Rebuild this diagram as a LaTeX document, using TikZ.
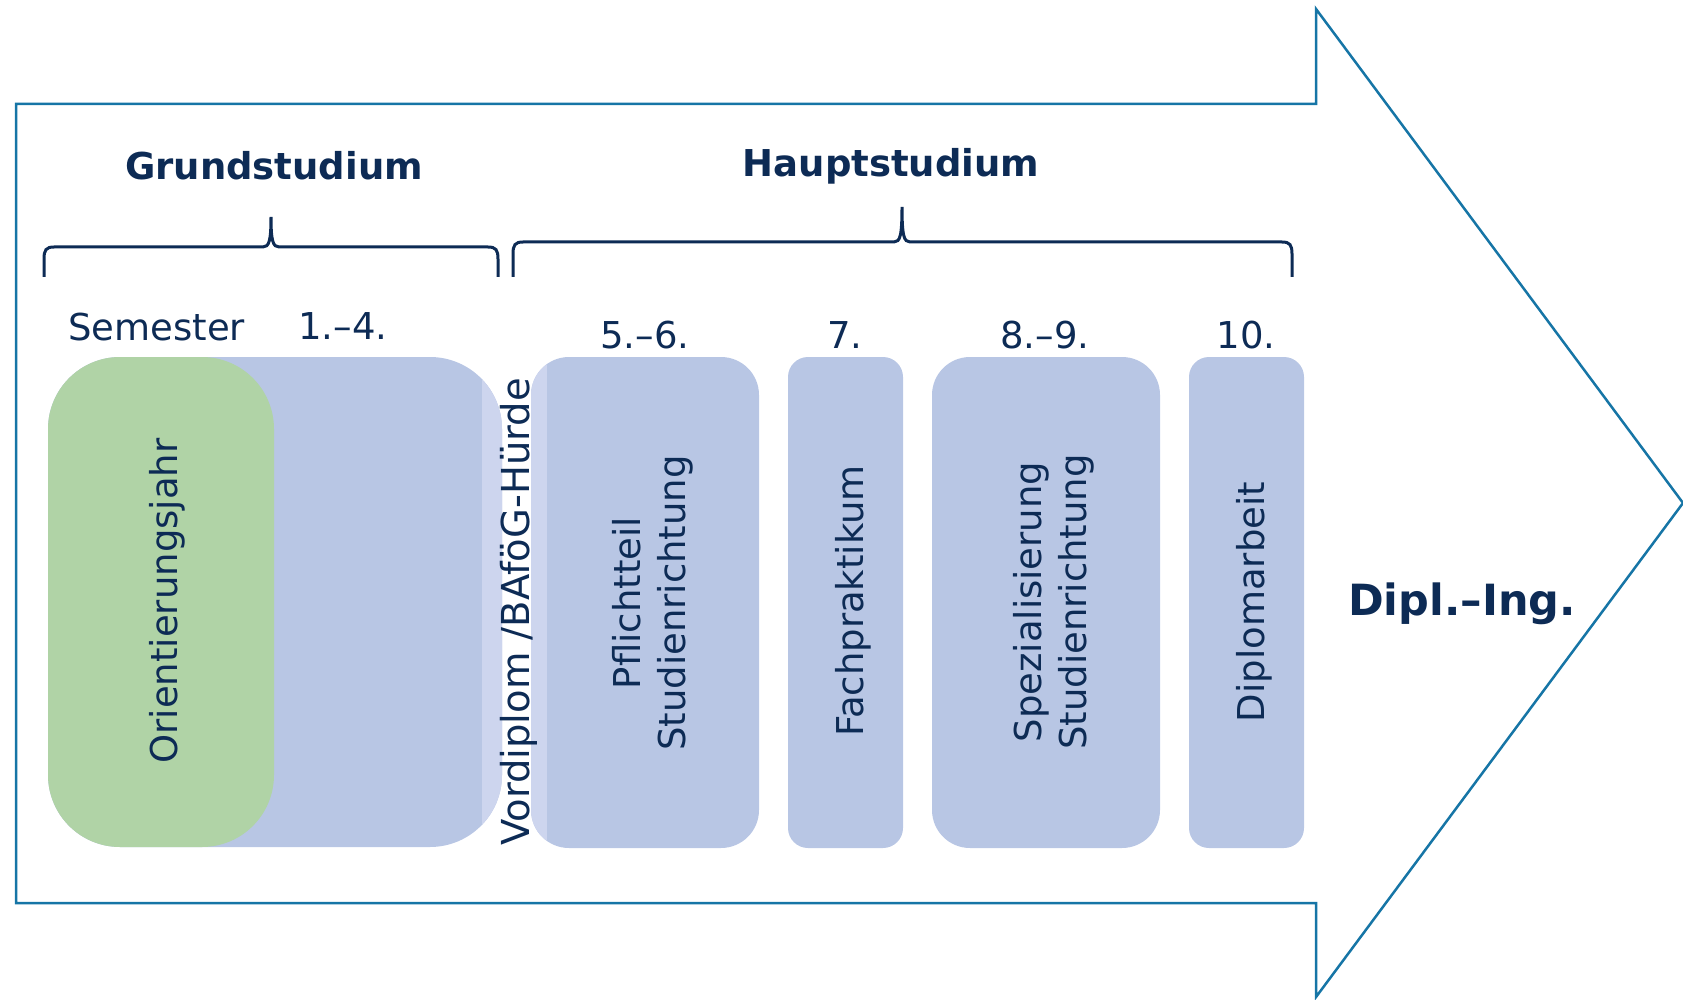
\documentclass[tikz,border=0pt]{standalone}
\usepackage{fontspec}
\setmainfont{DejaVu Sans}
\definecolor{navy}{RGB}{13,43,85}
\definecolor{arrowblue}{RGB}{22,117,166}
\definecolor{phaseblue}{RGB}{184,198,228}
\definecolor{phasegreen}{RGB}{176,211,166}
\definecolor{hurdleblue}{RGB}{205,213,238}
\tikzstyle{outline} = [draw=arrowblue, line width=2.5pt, line join=miter]
\tikzstyle{curly} = [draw=navy, line width=3pt]
\tikzstyle{phasebox} = [fill=phaseblue]
\tikzstyle{heading} = [text=navy, inner sep=0pt, anchor=base,
    font=\bfseries\fontsize{37}{45}\selectfont]
\tikzstyle{semester} = [text=navy, inner sep=0pt, anchor=base,
    font=\fontsize{37}{45}\selectfont]
\tikzstyle{phasetext} = [semester, rotate=90]

\begin{document}
\begin{tikzpicture}[x=1pt, y=-1pt]
    \useasboundingbox (0,0) rectangle (1683,1000);
    % Big arrow
    \draw [outline] (16,104) -- (1316,104) -- (1316,9) -- (1683,503)
        -- (1316,997) -- (1316,903) -- (16,903) -- cycle;

    % Phase boxes
    \fill [phasebox, rounded corners=72pt] (48,357) rectangle (502,847);
    \fill [phasebox, fill=phasegreen, rounded corners=72pt] (48,357) rectangle (274,847);
    \fill [phasebox, rounded corners=38pt] (531,357) rectangle (759,848);
    \fill [phasebox, rounded corners=20pt] (788,357) rectangle (903,848);
    \fill [phasebox, rounded corners=38pt] (932,357) rectangle (1160,848);
    \fill [phasebox, rounded corners=20pt] (1189,357) rectangle (1304,848);
    \begin{scope}
        \clip [rounded corners=72pt] (48,357) rectangle (502,847)
              [rounded corners=38pt] (531,357) rectangle (759,848);
        \fill [hurdleblue] (482,350) rectangle (547,855);
    \end{scope}

    % Braces
    \draw [curly] (44,277) -- (44,259) .. controls (44,250) and (46,247) .. (54,247)
        -- (263,247) .. controls (269,247) and (271,241) .. (271,217)
        .. controls (271,241) and (273,247) .. (279,247) -- (488,247)
        .. controls (496,247) and (498,250) .. (498,259) -- (498,277);
    \draw [curly] (513,277) -- (513,254) .. controls (513,245) and (515,242) .. (523,242)
        -- (894,242) .. controls (900,242) and (902,236) .. (902,207)
        .. controls (902,236) and (904,242) .. (910,242) -- (1282,242)
        .. controls (1290,242) and (1292,245) .. (1292,254) -- (1292,277);

    % Place nodes
    \node [heading] (grund) at (274,180) {Grundstudium};
    \node [heading] (haupt) at (891,177) {Hauptstudium};
    \node [semester, anchor=base west] (sem) at (68,340) {Semester};
    \node [semester] (s14) at (343,339) {1.–4.};
    \node [semester] (s56) at (645,348) {5.–6.};
    \node [semester] (s7) at (845,348) {7.};
    \node [semester] (s89) at (1045,348) {8.–9.};
    \node [semester] (s10) at (1246,348) {10.};

    \node [phasetext] (orient) at (177,601) {Orientierungsjahr};
    \node [phasetext, font=\fontsize{38.5}{45}\selectfont] (vordiplom) at (529,612) {Vordiplom /BAföG-Hürde};
    \node [phasetext, anchor=center, align=center] (pflicht) at (653,603) {Pflichtteil\\Studienrichtung};
    \node [phasetext] (fach) at (863,601) {Fachpraktikum};
    \node [phasetext, anchor=center, align=center] (spez) at (1054,602) {Spezialisierung\\Studienrichtung};
    \node [phasetext] (dipl) at (1264,602) {Diplomarbeit};

    \node [heading, font=\bfseries\fontsize{43}{50}\selectfont] (diploming) at (1462,615) {Dipl.–Ing.};
\end{tikzpicture}
\end{document}
